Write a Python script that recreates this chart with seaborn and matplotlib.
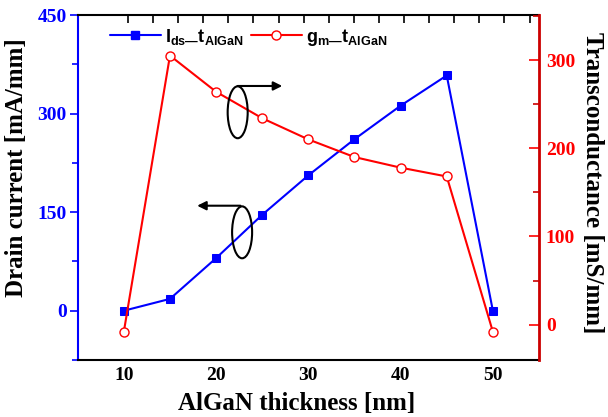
import matplotlib
matplotlib.use("Agg")
import matplotlib.pyplot as plt
import seaborn as sns
from matplotlib.patches import Ellipse
from matplotlib.ticker import MultipleLocator, FixedLocator
from matplotlib.lines import Line2D

# ---- data ----
thickness = [10, 15, 20, 25, 30, 35, 40, 45, 50]
drain_current = [0, 18, 80, 146, 206, 261, 312, 358, 0]
transconductance = [-8, 305, 264, 234, 210, 190, 178, 168, -8]
x_ticks = [10, 20, 30, 40, 50]
left_ticks = [0, 150, 300, 450]
right_ticks = [0, 100, 200, 300]
label_ids = r"$\mathbf{I_{ds—}t_{AlGaN}}$"
label_gm = r"$\mathbf{g_{m—}t_{AlGaN}}$"

sns.set_style("white")
plt.rcParams["font.family"] = ["Liberation Serif", "DejaVu Serif"]
plt.rcParams["font.weight"] = "bold"
plt.rcParams["text.color"] = "black"
plt.rcParams["axes.labelcolor"] = "black"
plt.rcParams["mathtext.fontset"] = "custom"
plt.rcParams["mathtext.rm"] = "Liberation Sans"
plt.rcParams["mathtext.bf"] = "Liberation Sans:bold"
plt.rcParams["mathtext.it"] = "Liberation Sans:italic"

BLUE = "#0000ff"
RED = "#ff0000"
DARKRED = "#cc0000"

fig = plt.figure(figsize=(6.08, 4.17), dpi=100)
ax = fig.add_axes([0.1278, 0.1367, 0.7587, 0.8273])
ax2 = ax.twinx()

sns.lineplot(x=thickness, y=drain_current, ax=ax, color=BLUE, marker="s",
             markersize=6, markeredgecolor=BLUE, markerfacecolor=BLUE,
             linewidth=1.5, legend=False)
sns.lineplot(x=thickness, y=transconductance, ax=ax2, color=RED, marker="o",
             markersize=6.5, markeredgecolor=RED, markerfacecolor="white",
             markeredgewidth=1.0, linewidth=1.5, legend=False)

ax.set_xlim(5, 55)
ax.set_ylim(-75, 450)
ax2.set_ylim(-40, 351)

# x axis
ax.xaxis.set_major_locator(FixedLocator(x_ticks))
ax.xaxis.set_minor_locator(MultipleLocator(5))
ax.tick_params(axis="x", which="major", direction="in", length=7, width=1.2,
               labelsize=14, pad=5, colors="black")
ax.tick_params(axis="x", which="minor", direction="in", length=4, width=1.2,
               colors="black")

# left axis
ax.yaxis.set_major_locator(FixedLocator(left_ticks))
ax.yaxis.set_minor_locator(MultipleLocator(75))
ax.tick_params(axis="y", which="major", direction="out", length=6, width=1.2,
               labelsize=14, pad=2, colors=BLUE)
ax.tick_params(axis="y", which="minor", direction="out", length=4, width=1.2,
               colors=BLUE)

# right axis
ax2.yaxis.set_major_locator(FixedLocator(right_ticks))
ax2.yaxis.set_minor_locator(MultipleLocator(50))
ax2.tick_params(axis="y", which="major", direction="in", length=7, width=1.2,
                labelsize=14, pad=5, colors=RED)
ax2.tick_params(axis="y", which="minor", direction="in", length=4, width=1.2,
                colors=DARKRED)

for lab in ax.get_xticklabels() + ax.get_yticklabels() + ax2.get_yticklabels():
    lab.set_fontweight("bold")

# spines
for s in ["top", "bottom"]:
    ax.spines[s].set_color("black")
    ax.spines[s].set_linewidth(1.5)
    ax2.spines[s].set_visible(False)
ax.spines["left"].set_color(BLUE)
ax.spines["left"].set_linewidth(1.5)
ax.spines["right"].set_visible(False)
ax2.spines["left"].set_visible(False)
ax2.spines["right"].set_color(DARKRED)
ax2.spines["right"].set_linewidth(2)

# top ticks
sec = ax.secondary_xaxis("top", functions=(lambda x: (x - 5) * 9.235 / 25.125,
                                           lambda t: t * 25.125 / 9.235 + 5))
sec.xaxis.set_major_locator(FixedLocator(list(range(2, 19))))
sec.tick_params(direction="in", length=6, width=1.2, labeltop=False,
                colors="black")
sec.spines["top"].set_visible(False)

# labels
ax.set_xlabel("AlGaN thickness [nm]", fontsize=18, fontweight="bold",
              color="black")
ax.xaxis.set_label_coords(0.475, -0.125)
ax.xaxis.label.set_va("center")
ax.set_ylabel("Drain current [mA/mm]", fontsize=18, fontweight="bold",
              color="black")
ax.yaxis.set_label_coords(-0.1316, 0.5565)
ax.yaxis.label.set_va("center")
ax2.set_ylabel("Transconductance [mS/mm]", fontsize=18, fontweight="bold",
               rotation=270, color="black")
ax2.yaxis.set_label_coords(1.115, 0.5145)
ax2.yaxis.label.set_va("center")

# ellipses and arrows
e1 = Ellipse((22.34, 302), width=2.17, height=79, fill=False, lw=1.5,
             ec="black", transform=ax.transData, zorder=5)
e2 = Ellipse((22.82, 119.3), width=2.17, height=79, fill=False, lw=1.5,
             ec="black", transform=ax.transData, zorder=5)
ax2.add_patch(e1)
ax2.add_patch(e2)
arrow_kw = dict(arrowstyle="-|>", color="black", lw=1.5, mutation_scale=13,
                shrinkA=0, shrinkB=0)
ax2.annotate("", xy=(27.17, 342), xytext=(22.34, 342), xycoords=ax.transData,
             textcoords=ax.transData, arrowprops=arrow_kw)
ax2.annotate("", xy=(17.95, 159.8), xytext=(22.64, 159.8),
             xycoords=ax.transData, textcoords=ax.transData,
             arrowprops=arrow_kw)

# legend
h1 = Line2D([], [], color=BLUE, marker="s", markersize=6, lw=1.5)
h2 = Line2D([], [], color=RED, marker="o", markersize=6.5,
            markerfacecolor="white", lw=1.5)
leg = ax2.legend([h1, h2], [label_ids, label_gm], loc="center left",
                 bbox_to_anchor=(0.07, 0.936), ncol=2, frameon=False,
                 handlelength=2.8, handletextpad=0.25, columnspacing=0.4,
                 borderpad=0, borderaxespad=0, fontsize=13)
for t in leg.get_texts():
    t.set_color("black")

fig.savefig("out.png", dpi=100)
